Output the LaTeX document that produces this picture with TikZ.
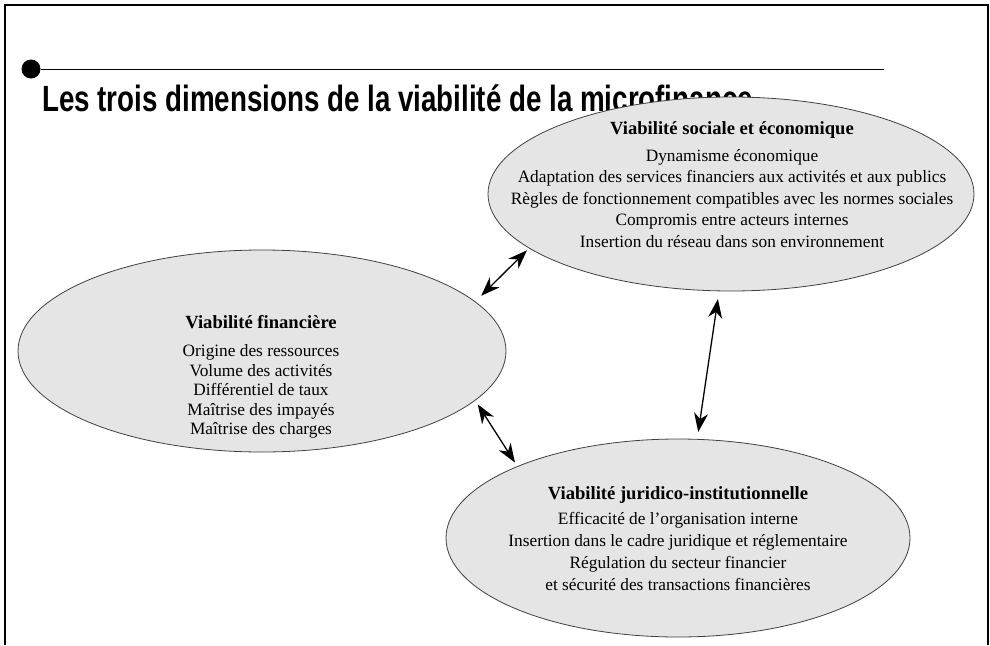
\documentclass[tikz,border=0pt]{standalone}
\usepackage{fontspec}
\setmainfont{Liberation Serif}
\newfontfamily\titlefont[FakeStretch=0.76]{Liberation Sans}
\usetikzlibrary{shapes.geometric,arrows.meta}
\definecolor{ellgray}{RGB}{229,229,229}
\newcommand{\headline}[1]{{\fontsize{18.6}{21}\selectfont\bfseries #1}}
\begin{document}
\begin{tikzpicture}[x=1pt,y=-1pt,
  blob/.style={ellipse, draw=black!75, line width=0.8pt, fill=ellgray, inner sep=0pt, outer sep=0pt},
  body/.style={align=center, inner sep=0pt, outer sep=0pt, anchor=north, font=\fontsize{17.3}{21.5}\selectfont},
  link/.style={{Stealth[length=19pt,width=14pt,inset=6pt]}-{Stealth[length=19pt,width=14pt,inset=6pt]}, line width=1.3pt},
]
\useasboundingbox (0,0) rectangle (990,645);
\draw[line width=2.2pt] (5,645) -- (5,5) -- (988,5) -- (988,645);

\node[circle, fill=black, minimum size=19pt, inner sep=0pt, outer sep=0pt] (dot) at (31,69) {};
\coordinate (lineend) at (884,69);
\draw[line width=1pt] (dot) -- (lineend);
\node[anchor=base west, inner sep=0pt, font=\titlefont\bfseries\fontsize{36.5}{40}\selectfont] (title) at (42,111) {Les trois dimensions de la viabilité de la microfinance};

\node[blob, minimum width=486pt, minimum height=194pt] (soc) at (731,194) {};
\node[blob, minimum width=488pt, minimum height=202pt] (fin) at (262,351) {};
\node[blob, minimum width=464pt, minimum height=198pt] (jur) at (678,538) {};

\node[body] (soctxt) at (732,121.5) {\headline{Viabilité sociale et économique}\\[5.5pt]
Dynamisme économique\\
Adaptation des services financiers aux activités et aux publics\\
Règles de fonctionnement compatibles avec les normes sociales\\
Compromis entre acteurs internes\\
Insertion du réseau dans son environnement};

\node[body, font=\fontsize{17.3}{19.5}\selectfont] (fintxt) at (261,315.6) {\headline{Viabilité financière}\\[8.5pt]
Origine des ressources\\
Volume des activités\\
Différentiel de taux\\
Maîtrise des impayés\\
Maîtrise des charges};

\node[body, font=\fontsize{17.3}{22}\selectfont] (jurtxt) at (678,486.6) {\headline{Viabilité juridico-institutionnelle}\\[3pt]
Efficacité de l’organisation interne\\
Insertion dans le cadre juridique et réglementaire\\
Régulation du secteur financier\\
et sécurité des transactions financières};

\draw[link, shorten <=8.6pt, shorten >=3.2pt] (fin.13.4) -- (soc.195.7);
\draw[link, shorten <=8.2pt, shorten >=7.4pt] (soc.263.06) -- (jur.79.15);
\draw[link, shorten <=5pt, shorten >=4.7pt] (fin.-13.94) -- (jur.156.18);
\end{tikzpicture}
\end{document}
